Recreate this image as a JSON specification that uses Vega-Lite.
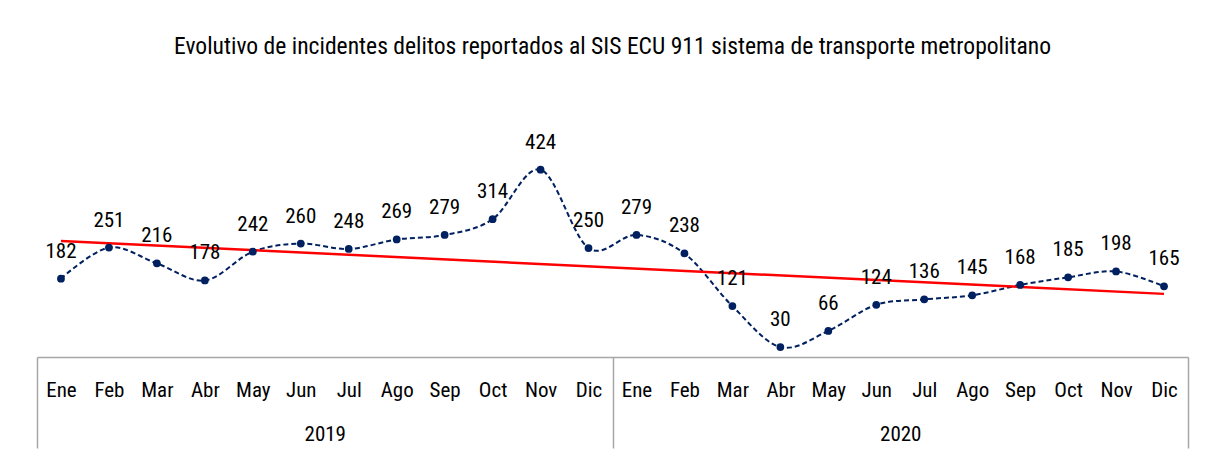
{
  "$schema": "https://vega.github.io/schema/vega-lite/v6.json",
  "autosize": {"type": "none"},
  "width": 1151,
  "height": 199,
  "padding": {"left": 37, "top": 158, "right": 19, "bottom": 99},
  "background": "#ffffff",
  "config": {
    "view": {"stroke": null},
    "font": "Roboto Condensed, Roboto",
    "text": {"font": "Roboto Condensed, Roboto"}
  },
  "title": {
    "text": "Evolutivo de incidentes delitos reportados al SIS ECU 911 sistema de transporte metropolitano",
    "font": "Roboto Condensed, Roboto",
    "fontSize": 23.6,
    "fontWeight": "normal",
    "color": "#000000",
    "anchor": "middle",
    "offset": 73
  },
  "data": {
    "values": [
      {"i": 1, "year": "2019", "mes": "Ene", "v": 182},
      {"i": 2, "year": "2019", "mes": "Feb", "v": 251},
      {"i": 3, "year": "2019", "mes": "Mar", "v": 216},
      {"i": 4, "year": "2019", "mes": "Abr", "v": 178},
      {"i": 5, "year": "2019", "mes": "May", "v": 242},
      {"i": 6, "year": "2019", "mes": "Jun", "v": 260},
      {"i": 7, "year": "2019", "mes": "Jul", "v": 248},
      {"i": 8, "year": "2019", "mes": "Ago", "v": 269},
      {"i": 9, "year": "2019", "mes": "Sep", "v": 279},
      {"i": 10, "year": "2019", "mes": "Oct", "v": 314},
      {"i": 11, "year": "2019", "mes": "Nov", "v": 424},
      {"i": 12, "year": "2019", "mes": "Dic", "v": 250},
      {"i": 13, "year": "2020", "mes": "Ene", "v": 279},
      {"i": 14, "year": "2020", "mes": "Feb", "v": 238},
      {"i": 15, "year": "2020", "mes": "Mar", "v": 121},
      {"i": 16, "year": "2020", "mes": "Abr", "v": 30},
      {"i": 17, "year": "2020", "mes": "May", "v": 66},
      {"i": 18, "year": "2020", "mes": "Jun", "v": 124},
      {"i": 19, "year": "2020", "mes": "Jul", "v": 136},
      {"i": 20, "year": "2020", "mes": "Ago", "v": 145},
      {"i": 21, "year": "2020", "mes": "Sep", "v": 168},
      {"i": 22, "year": "2020", "mes": "Oct", "v": 185},
      {"i": 23, "year": "2020", "mes": "Nov", "v": 198},
      {"i": 24, "year": "2020", "mes": "Dic", "v": 165}
    ]
  },
  "layer": [
    {
      "layer": [
        {
          "mark": {"type": "line", "interpolate": "cardinal", "tension": 0, "color": "#002060", "strokeWidth": 2, "strokeDash": [5, 3]},
          "encoding": {
            "x": {
              "field": "i", "type": "quantitative",
              "scale": {"domain": [0.5, 24.5], "nice": false, "zero": false},
              "axis": {
                "values": [1,2,3,4,5,6,7,8,9,10,11,12,13,14,15,16,17,18,19,20,21,22,23,24],
                "labelExpr": "['Ene','Feb','Mar','Abr','May','Jun','Jul','Ago','Sep','Oct','Nov','Dic'][(datum.value - 1) % 12]",
                "orient": "bottom",
                "title": null,
                "ticks": false,
                "grid": false,
                "domain": true,
                "domainColor": "#a6a6a6",
                "domainWidth": 1.5,
                "labelPadding": 22,
                "labelFont": "Roboto Condensed, Roboto",
                "labelFontSize": 21,
                "labelColor": "#000000",
                "labelOverlap": false,
                "labelFlush": false
              }
            },
            "y": {"field": "v", "type": "quantitative", "scale": {"domain": [8, 450], "nice": false, "zero": false}, "axis": null}
          }
        },
        {
          "transform": [{"regression": "v", "on": "i"}],
          "mark": {"type": "line", "color": "#ff0000", "strokeWidth": 2.5},
          "encoding": {
            "x": {"field": "i", "type": "quantitative"},
            "y": {"field": "v", "type": "quantitative"}
          }
        },
        {
          "mark": {"type": "point", "filled": true, "color": "#002060", "size": 60, "opacity": 1},
          "encoding": {
            "x": {"field": "i", "type": "quantitative"},
            "y": {"field": "v", "type": "quantitative"}
          }
        },
        {
          "mark": {"type": "text", "dy": -27, "baseline": "middle", "align": "center", "fontSize": 21, "color": "#000000"},
          "encoding": {
            "x": {"field": "i", "type": "quantitative"},
            "y": {"field": "v", "type": "quantitative"},
            "text": {"field": "v", "type": "quantitative"}
          }
        }
      ]
    },
    {
      "mark": {"type": "point", "opacity": 0},
      "encoding": {
        "x": {
          "field": "year", "type": "nominal",
          "scale": {"type": "band", "paddingInner": 0, "paddingOuter": 0},
          "axis": {
            "orient": "bottom",
            "title": null,
            "domain": false,
            "grid": false,
            "ticks": true,
            "tickBand": "extent",
            "tickSize": 91,
            "tickColor": "#a6a6a6",
            "tickWidth": 1.5,
            "labelPadding": -25,
            "labelAngle": 0,
            "labelFont": "Roboto Condensed, Roboto",
            "labelFontSize": 21,
            "labelColor": "#000000"
          }
        }
      }
    }
  ],
  "resolve": {"scale": {"x": "independent"}, "axis": {"x": "independent"}}
}
